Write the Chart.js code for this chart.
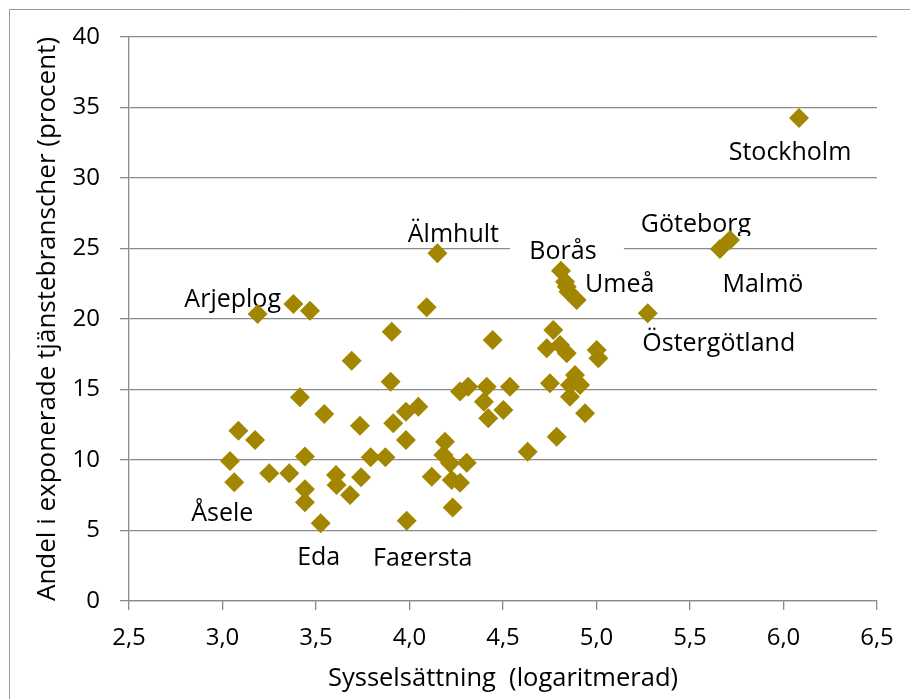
<!DOCTYPE html>
<html>
<head>
<meta charset="utf-8">
<script src="https://cdn.jsdelivr.net/npm/chart.js@4"></script>
<style>
  body { margin: 0; background: #fff; }
</style>
</head>
<body>
<canvas id="scatterChart" width="910" height="699"></canvas>
<script>
// Sysselsättning (log) and share of exposed service industries, one entry per region
const sysselsattning = [
  6.083, 5.714, 5.66, 5.274, 4.149, 4.092, 3.188, 3.379, 3.468, 3.905,
  3.691, 3.899, 3.414, 3.544, 3.735, 3.913, 3.085, 3.174, 3.04, 3.063,
  3.25, 3.357, 3.441, 3.441, 3.441, 3.525, 3.607, 3.61, 3.682, 3.741,
  3.792, 3.871, 4.445, 4.27, 4.314, 4.413, 4.398, 4.537, 4.502, 4.421,
  4.047, 3.981, 3.981, 4.19, 4.181, 4.217, 4.306, 4.119, 4.226, 4.27,
  4.231, 3.985, 4.632, 4.751, 4.734, 4.769, 4.787, 4.81, 4.832, 4.841,
  4.85, 4.894, 4.805, 4.841, 5.001, 5.01, 4.885, 4.858, 4.912, 4.858,
  4.939
];
const andelExponerade = [
  34.26, 25.6, 24.96, 20.4, 24.66, 20.83, 20.35, 21.06, 20.59, 19.1,
  17.04, 15.55, 14.45, 13.26, 12.43, 12.6, 12.08, 11.42, 9.93, 8.42,
  9.06, 9.06, 10.24, 7.92, 7.0, 5.51, 8.94, 8.23, 7.52, 8.77,
  10.19, 10.19, 18.51, 14.85, 15.2, 15.2, 14.14, 15.2, 13.55, 12.96,
  13.78, 13.43, 11.42, 11.3, 10.35, 9.77, 9.81, 8.82, 8.58, 8.39,
  6.64, 5.7, 10.59, 15.44, 17.92, 19.22, 11.65, 23.43, 22.65, 22.29,
  21.94, 21.35, 18.16, 17.57, 17.8, 17.21, 16.03, 15.32, 15.32, 14.49,
  13.31
];

// named regions and which point they belong to
const regionNames = ['Stockholm', 'Göteborg', 'Malmö', 'Östergötland', 'Umeå', 'Borås',
  'Älmhult', 'Arjeplog', 'Åsele', 'Eda', 'Fagersta'];
const regionPoint = [0, 1, 2, 3, 61, 57, 4, 6, 19, 25, 51];

// where each label sits relative to its point (px): centre dx, baseline dy, optional cut / white box
const labelPlacement = {
  'Stockholm':    { dx: -9,   dy: 42 },
  'Göteborg':     { dx: -34,  dy: -8,  cut: -4 },
  'Malmö':        { dx: 43,   dy: 43 },
  'Östergötland': { dx: 71,   dy: 38 },
  'Umeå':         { dx: 43,   dy: -8 },
  'Borås':        { dx: 2,    dy: -12, box: [-51, -41, 114, 35] },
  'Älmhult':      { dx: 16,   dy: -11 },
  'Arjeplog':     { dx: -25,  dy: -7 },
  'Åsele':        { dx: -12,  dy: 39 },
  'Eda':          { dx: -2,   dy: 42,  cut: 43 },
  'Fagersta':     { dx: 16,   dy: 45,  cut: 45 }
};

const xTicks = [2.5, 3.0, 3.5, 4.0, 4.5, 5.0, 5.5, 6.0, 6.5];

const gold = '#a38600';
const gridGrey = '#8a8a8a';
const fontFamily = '"Open Sans", "Noto Sans", sans-serif';

const points = sysselsattning.map((x, i) => ({ x: x, y: andelExponerade[i] }));

// frame round the whole chart
const framePlugin = {
  id: 'frame',
  beforeDraw(chart) {
    const c = chart.ctx;
    c.save();
    c.strokeStyle = '#9a9a9a';
    c.lineWidth = 1;
    c.beginPath();
    c.moveTo(9.5, chart.height + 5);
    c.lineTo(9.5, 9.5);
    c.lineTo(chart.width + 5, 9.5);
    c.stroke();
    c.restore();
  }
};

// region names, drawn under the markers
const regionLabels = {
  id: 'regionLabels',
  beforeDatasetsDraw(chart) {
    const c = chart.ctx;
    const xs = chart.scales.x, ys = chart.scales.y;
    c.save();
    c.font = '25px ' + fontFamily;
    c.fillStyle = '#000';
    c.textAlign = 'center';
    c.textBaseline = 'alphabetic';
    regionNames.forEach((name, i) => {
      const p = points[regionPoint[i]];
      const px = xs.getPixelForValue(p.x);
      const py = ys.getPixelForValue(p.y);
      const pl = labelPlacement[name];
      c.save();
      if (pl.box) {
        c.fillStyle = '#fff';
        c.fillRect(px + pl.box[0], py + pl.box[1], pl.box[2], pl.box[3]);
        c.fillStyle = '#000';
      }
      if (pl.cut !== undefined) {
        c.beginPath();
        c.rect(0, 0, chart.width, py + pl.cut);
        c.clip();
      }
      c.fillText(name, px + pl.dx, py + pl.dy);
      c.restore();
    });
    c.restore();
  }
};

new Chart(document.getElementById('scatterChart'), {
  type: 'scatter',
  data: {
    datasets: [{
      data: points,
      pointStyle: 'rectRot',
      pointRadius: 10,
      pointHoverRadius: 10,
      pointBorderWidth: 0,
      backgroundColor: gold,
      borderColor: gold
    }]
  },
  options: {
    responsive: false,
    animation: false,
    layout: { padding: { top: 37, right: 33, left: 0, bottom: 0 } },
    plugins: {
      legend: { display: false },
      tooltip: { enabled: false }
    },
    scales: {
      x: {
        type: 'linear',
        min: 2.5,
        max: 6.5,
        afterBuildTicks: (scale) => { scale.ticks = xTicks.map(v => ({ value: v })); },
        afterFit: (scale) => { scale.height = 98; },
        ticks: {
          autoSkip: false,
          maxRotation: 0,
          padding: 14,
          color: '#000',
          font: { family: fontFamily, size: 24 },
          callback: (v) => v.toFixed(1).replace('.', ',')
        },
        grid: { drawOnChartArea: false, drawTicks: true, tickLength: 9, color: gridGrey, lineWidth: 1.3 },
        border: { display: true, color: gridGrey, width: 1.3 },
        title: {
          display: true,
          text: 'Sysselsättning  (logaritmerad)',
          color: '#000',
          font: { family: fontFamily, size: 25.5 },
          padding: { top: 0, bottom: 5 }
        }
      },
      y: {
        min: 0,
        max: 40,
        afterFit: (scale) => { scale.width = 129; },
        ticks: {
          stepSize: 5,
          padding: 20,
          color: '#000',
          font: { family: fontFamily, size: 24 }
        },
        grid: { drawTicks: true, tickLength: 9, color: gridGrey, lineWidth: 1.3 },
        border: { display: true, color: gridGrey, width: 1.3 },
        title: {
          display: true,
          text: 'Andel i exponerade tjänstebranscher (procent)',
          color: '#000',
          font: { family: fontFamily, size: 26 },
          padding: { top: 32, bottom: 0 }
        }
      }
    }
  },
  plugins: [framePlugin, regionLabels]
});
</script>
</body>
</html>
